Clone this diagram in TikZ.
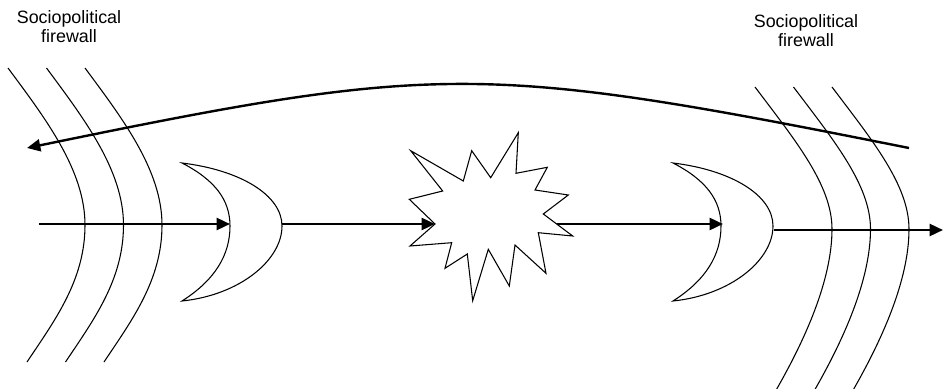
\documentclass[tikz,border=0pt]{standalone}
\usepackage{fontspec}
\setmainfont{Liberation Sans}
\usetikzlibrary{arrows.meta}

\tikzset{
  wall/.style={line width=0.8pt},
  flow/.style={line width=1.8pt, -{Triangle[length=10pt,width=9pt]}},
  label/.style={align=center, inner sep=0pt, font=\fontsize{13.4}{14.3}\selectfont},
  moon/.pic={
    \draw[wall, fill=white] (0,0) .. controls (58,7) and (100,32) .. (100,63)
      .. controls (100,97) and (58,132) .. (0,138)
      .. controls (33,117) and (48,92) .. (48,63)
      .. controls (48,37) and (33,17) .. cycle;
  },
}

\begin{document}
\begin{tikzpicture}[x=0.75pt,y=-0.75pt]
\useasboundingbox (0,0) rectangle (943,389);

% labels
\node[label,anchor=north] (fwleft) at (69,10) {Sociopolitical\\firewall};
\node[label,anchor=north] (fwright) at (806,14) {Sociopolitical\\firewall};

% firewalls
\foreach \dx in {0,38.5,77}
  \draw[wall,shift={(\dx,0)}] (8,68) .. controls (45,118) and (85,170) .. (85,225)
    .. controls (85,280) and (55,320) .. (27,362);
\foreach \dx in {0,38.5,77}
  \draw[wall,shift={(\dx,0)}] (755,87) .. controls (795,140) and (832,185) .. (832,229)
    .. controls (832,280) and (805,340) .. (775,392);

% receivers
\pic at (182,163) {moon};
\pic at (673,163) {moon};

% points on the flow
\coordinate (src) at (39,224);
\coordinate (moonAin) at (230,224);
\coordinate (moonAout) at (282,224);
\coordinate (starin) at (435,224);
\coordinate (starout) at (557,224);
\coordinate (moonBin) at (723,224);
\coordinate (moonBout) at (774,230);
\coordinate (sink) at (943,230);
\coordinate (backstart) at (909,148);
\coordinate (backend) at (27,148);

% conflict
\draw[wall] (starin) -- (409.3,199.3) -- (442.7,191) -- (410.7,150.7) -- (463.3,181)
  -- (471.7,150.7) -- (490.7,177.7) -- (518.3,132.7) -- (516,173.3) -- (547.3,167.3)
  -- (535,190) -- (568.3,195) -- (543.3,214) -- (572.7,236) -- (538.3,232.7)
  -- (546,273.3) -- (515,245) -- (509.3,286) -- (488.3,249.3) -- (472.7,300.7)
  -- (467.3,254) -- (445,268.3) -- (451.7,242.7) -- (410,246) -- cycle;

% flows
\draw[flow] (src) -- (moonAin);
\draw[flow] (moonAout) -- (starin);
\draw[flow] (starout) -- (moonBin);
\draw[flow] (moonBout) -- (sink);
\draw[flow] (backstart) .. controls (483,63) and (440,63) .. (backend);
\end{tikzpicture}
\end{document}
